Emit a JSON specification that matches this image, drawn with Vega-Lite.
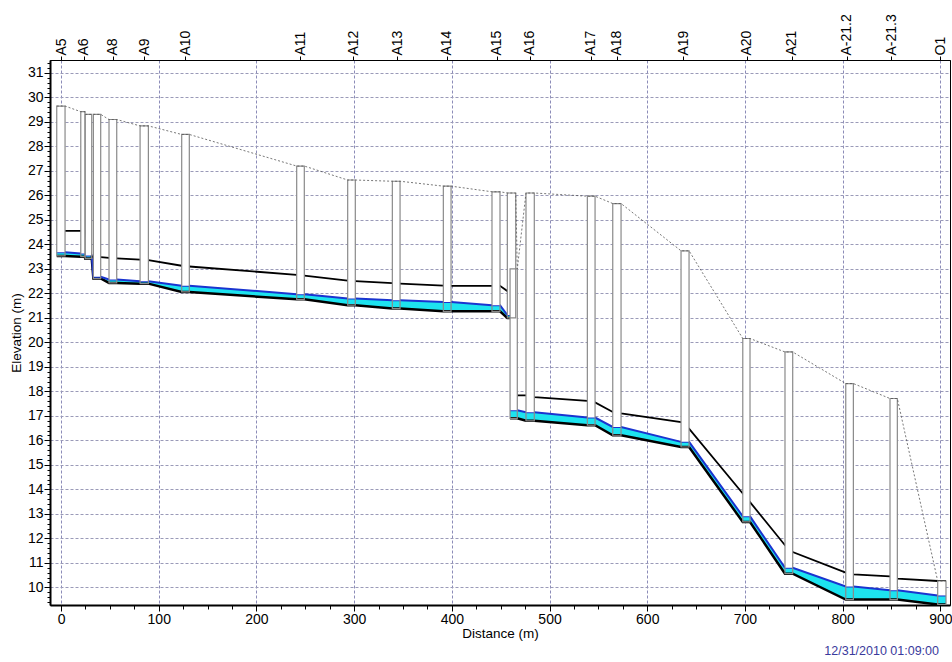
{
  "$schema": "https://vega.github.io/schema/vega-lite/v6.json",
  "width": 900,
  "height": 545,
  "autosize": {"type": "none"},
  "padding": {"left": 50, "top": 60, "right": 2, "bottom": 57},
  "background": "white",
  "title": {"text": "12/31/2010 01:09:00", "orient": "bottom", "anchor": "end", "frame": "group", "fontSize": 12.5, "fontWeight": "normal", "color": "#3a3a9c", "offset": 5, "dx": -11},
  "config": {
    "font": "Liberation Sans",
    "view": {"stroke": "#000", "strokeWidth": 1},
    "axis": {"labelColor": "#000", "titleColor": "#000", "tickColor": "#000", "domainColor": "#000", "labelFont": "Liberation Sans", "titleFont": "Liberation Sans", "titleFontWeight": "normal"}
  },
  "datasets": {
    "nodes": [
      {"name": "A5", "xl": -4.4, "xr": 4.1, "inv": 23.53, "wat": 23.68, "rim": 29.65},
      {"name": "A6", "xl": 20.2, "xr": 24.5, "inv": 23.5, "wat": 23.63, "rim": 29.42},
      {"name": "", "xl": 24.7, "xr": 31.4, "inv": 23.43, "wat": 23.55, "rim": 29.31},
      {"name": "", "xl": 33.1, "xr": 40.6, "inv": 22.61, "wat": 22.68, "rim": 29.31},
      {"name": "A8", "xl": 49.1, "xr": 57.0, "inv": 22.43, "wat": 22.57, "rim": 29.1},
      {"name": "A9", "xl": 80.9, "xr": 89.4, "inv": 22.4, "wat": 22.5, "rim": 28.84},
      {"name": "A10", "xl": 123.5, "xr": 131.3, "inv": 22.06, "wat": 22.31, "rim": 28.49},
      {"name": "A11", "xl": 241.2, "xr": 249.0, "inv": 21.76, "wat": 21.97, "rim": 27.2},
      {"name": "A12", "xl": 293.4, "xr": 301.2, "inv": 21.52, "wat": 21.79, "rim": 26.63},
      {"name": "A13", "xl": 339.1, "xr": 347.0, "inv": 21.38, "wat": 21.72, "rim": 26.58},
      {"name": "A14", "xl": 391.3, "xr": 399.2, "inv": 21.27, "wat": 21.65, "rim": 26.38},
      {"name": "A15", "xl": 441.1, "xr": 449.3, "inv": 21.27, "wat": 21.52, "rim": 26.15},
      {"name": "", "xl": 456.8, "xr": 465.4, "inv": 21.0, "wat": 21.12, "rim": 26.1},
      {"name": "", "xl": 459.6, "xr": 467.0, "inv": 16.9, "wat": 17.23, "rim": 23.0},
      {"name": "A16", "xl": 475.9, "xr": 484.4, "inv": 16.8, "wat": 17.15, "rim": 26.1},
      {"name": "A17", "xl": 538.7, "xr": 546.6, "inv": 16.62, "wat": 16.93, "rim": 25.97},
      {"name": "A18", "xl": 564.7, "xr": 573.2, "inv": 16.21, "wat": 16.55, "rim": 25.67},
      {"name": "A19", "xl": 634.6, "xr": 642.8, "inv": 15.73, "wat": 15.94, "rim": 23.74},
      {"name": "A20", "xl": 697.8, "xr": 705.2, "inv": 12.67, "wat": 12.9, "rim": 20.16},
      {"name": "A21", "xl": 741.0, "xr": 748.9, "inv": 10.56, "wat": 10.8, "rim": 19.61},
      {"name": "A-21.2", "xl": 803.2, "xr": 811.0, "inv": 9.5, "wat": 10.04, "rim": 18.32},
      {"name": "A-21.3", "xl": 848.5, "xr": 856.0, "inv": 9.5, "wat": 9.88, "rim": 17.71},
      {"name": "O1", "xl": 897.3, "xr": 905.8, "inv": 9.3, "wat": 9.67, "rim": 10.26}
    ],
    "profile": [
      {"seg": 1, "x": -4.4, "inv": 23.53, "wat": 23.68, "egl": 24.55},
      {"seg": 1, "x": 4.1, "inv": 23.53, "wat": 23.68, "egl": 24.55},
      {"seg": 1, "x": 20.2, "inv": 23.5, "wat": 23.63, "egl": 24.55},
      {"seg": 1, "x": 24.5, "inv": 23.5, "wat": 23.63, "egl": 24.55},
      {"seg": 1, "x": 24.7, "inv": 23.43, "wat": 23.55, "egl": 24.55},
      {"seg": 1, "x": 31.4, "inv": 23.43, "wat": 23.55, "egl": 23.5},
      {"seg": 1, "x": 33.1, "inv": 22.61, "wat": 22.68, "egl": 23.49},
      {"seg": 1, "x": 40.6, "inv": 22.61, "wat": 22.68, "egl": 23.48},
      {"seg": 1, "x": 49.1, "inv": 22.43, "wat": 22.57, "egl": 23.45},
      {"seg": 1, "x": 57.0, "inv": 22.43, "wat": 22.57, "egl": 23.43},
      {"seg": 1, "x": 80.9, "inv": 22.4, "wat": 22.5, "egl": 23.38},
      {"seg": 1, "x": 89.4, "inv": 22.4, "wat": 22.5, "egl": 23.36},
      {"seg": 1, "x": 123.5, "inv": 22.06, "wat": 22.31, "egl": 23.13},
      {"seg": 1, "x": 131.3, "inv": 22.06, "wat": 22.31, "egl": 23.1},
      {"seg": 1, "x": 241.2, "inv": 21.76, "wat": 21.97, "egl": 22.76},
      {"seg": 1, "x": 249.0, "inv": 21.76, "wat": 21.97, "egl": 22.73},
      {"seg": 1, "x": 293.4, "inv": 21.52, "wat": 21.79, "egl": 22.52},
      {"seg": 1, "x": 301.2, "inv": 21.52, "wat": 21.79, "egl": 22.5},
      {"seg": 1, "x": 339.1, "inv": 21.38, "wat": 21.72, "egl": 22.42},
      {"seg": 1, "x": 347.0, "inv": 21.38, "wat": 21.72, "egl": 22.4},
      {"seg": 1, "x": 391.3, "inv": 21.27, "wat": 21.65, "egl": 22.32},
      {"seg": 1, "x": 399.2, "inv": 21.27, "wat": 21.65, "egl": 22.31},
      {"seg": 1, "x": 441.1, "inv": 21.27, "wat": 21.52, "egl": 22.31},
      {"seg": 1, "x": 449.3, "inv": 21.27, "wat": 21.52, "egl": 22.31},
      {"seg": 1, "x": 456.8, "inv": 21.0, "wat": 21.12, "egl": 22.1},
      {"seg": 1, "x": 465.4, "inv": 21.0, "wat": 21.12, "egl": 22.1},
      {"seg": 2, "x": 459.6, "inv": 16.9, "wat": 17.23, "egl": 17.84},
      {"seg": 2, "x": 467.0, "inv": 16.9, "wat": 17.23, "egl": 17.84},
      {"seg": 2, "x": 475.9, "inv": 16.8, "wat": 17.15, "egl": 17.84},
      {"seg": 2, "x": 484.4, "inv": 16.8, "wat": 17.15, "egl": 17.77},
      {"seg": 2, "x": 538.7, "inv": 16.62, "wat": 16.93, "egl": 17.61},
      {"seg": 2, "x": 546.6, "inv": 16.62, "wat": 16.93, "egl": 17.55},
      {"seg": 2, "x": 564.7, "inv": 16.21, "wat": 16.55, "egl": 17.16},
      {"seg": 2, "x": 573.2, "inv": 16.21, "wat": 16.55, "egl": 17.1},
      {"seg": 2, "x": 634.6, "inv": 15.73, "wat": 15.94, "egl": 16.75},
      {"seg": 2, "x": 642.8, "inv": 15.73, "wat": 15.94, "egl": 16.48},
      {"seg": 2, "x": 697.8, "inv": 12.67, "wat": 12.9, "egl": 13.83},
      {"seg": 2, "x": 705.2, "inv": 12.67, "wat": 12.9, "egl": 13.48},
      {"seg": 2, "x": 741.0, "inv": 10.56, "wat": 10.8, "egl": 11.72},
      {"seg": 2, "x": 748.9, "inv": 10.56, "wat": 10.8, "egl": 11.44},
      {"seg": 2, "x": 803.2, "inv": 9.5, "wat": 10.04, "egl": 10.6},
      {"seg": 2, "x": 811.0, "inv": 9.5, "wat": 10.04, "egl": 10.53},
      {"seg": 2, "x": 848.5, "inv": 9.5, "wat": 9.88, "egl": 10.45},
      {"seg": 2, "x": 856.0, "inv": 9.5, "wat": 9.88, "egl": 10.36},
      {"seg": 2, "x": 897.3, "inv": 9.3, "wat": 9.67, "egl": 10.26},
      {"seg": 2, "x": 905.8, "inv": 9.3, "wat": 9.67, "egl": 10.26}
    ],
    "ground": [
      {"x": -4.4, "rim": 29.65}, {"x": 4.1, "rim": 29.65},
      {"x": 20.2, "rim": 29.42}, {"x": 24.5, "rim": 29.42},
      {"x": 24.7, "rim": 29.31}, {"x": 31.4, "rim": 29.31},
      {"x": 33.1, "rim": 29.31}, {"x": 40.6, "rim": 29.31},
      {"x": 49.1, "rim": 29.1}, {"x": 57.0, "rim": 29.1},
      {"x": 80.9, "rim": 28.84}, {"x": 89.4, "rim": 28.84},
      {"x": 123.5, "rim": 28.49}, {"x": 131.3, "rim": 28.49},
      {"x": 241.2, "rim": 27.2}, {"x": 249.0, "rim": 27.2},
      {"x": 293.4, "rim": 26.63}, {"x": 301.2, "rim": 26.63},
      {"x": 339.1, "rim": 26.58}, {"x": 347.0, "rim": 26.58},
      {"x": 391.3, "rim": 26.38}, {"x": 399.2, "rim": 26.38},
      {"x": 441.1, "rim": 26.15}, {"x": 449.3, "rim": 26.15},
      {"x": 456.8, "rim": 26.1}, {"x": 465.4, "rim": 26.1},
      {"x": 467.0, "rim": 23.0},
      {"x": 475.9, "rim": 26.1}, {"x": 484.4, "rim": 26.1},
      {"x": 538.7, "rim": 25.97}, {"x": 546.6, "rim": 25.97},
      {"x": 564.7, "rim": 25.67}, {"x": 573.2, "rim": 25.67},
      {"x": 634.6, "rim": 23.74}, {"x": 642.8, "rim": 23.74},
      {"x": 697.8, "rim": 20.16}, {"x": 705.2, "rim": 20.16},
      {"x": 741.0, "rim": 19.61}, {"x": 748.9, "rim": 19.61},
      {"x": 803.2, "rim": 18.32}, {"x": 811.0, "rim": 18.32},
      {"x": 848.5, "rim": 17.71}, {"x": 856.0, "rim": 17.71},
      {"x": 897.3, "rim": 10.26}, {"x": 905.8, "rim": 10.26}
    ]
  },
  "layer": [
    {
      "data": {"name": "profile"},
      "mark": {"type": "area", "color": "#1de3ef", "opacity": 1},
      "encoding": {
        "x": {"field": "x", "type": "quantitative", "scale": {"domain": [-11.3, 909.9], "nice": false, "zero": false},
          "axis": {"orient": "bottom", "values": [0, 100, 200, 300, 400, 500, 600, 700, 800, 900], "title": "Distance (m)", "grid": true, "gridColor": "#8c8cb8", "gridDash": [3, 2], "gridWidth": 1, "domainWidth": 2, "tickSize": 6, "tickWidth": 1, "labelFontSize": 14, "labelPadding": 1, "titleFontSize": 13.5, "titlePadding": 0, "labelFlush": false}},
        "y": {"field": "inv", "type": "quantitative", "scale": {"domain": [9.28, 31.53], "nice": false, "zero": false},
          "axis": {"orient": "left", "values": [10, 11, 12, 13, 14, 15, 16, 17, 18, 19, 20, 21, 22, 23, 24, 25, 26, 27, 28, 29, 30, 31], "title": "Elevation (m)", "grid": true, "gridColor": "#9a9ab8", "gridDash": [3, 2], "gridWidth": 1, "domainWidth": 2, "tickSize": 6, "tickWidth": 1, "labelFontSize": 14, "labelPadding": 1, "titleFontSize": 13.5, "titlePadding": 4, "labelFlush": false}},
        "y2": {"field": "wat"},
        "detail": {"field": "seg", "type": "nominal"}
      }
    },
    {
      "data": {"name": "profile"},
      "mark": {"type": "line", "color": "#000000", "strokeWidth": 2.5},
      "encoding": {
        "x": {"field": "x", "type": "quantitative", "scale": {"domain": [-11.3, 909.9], "nice": false, "zero": false},
          "axis": {"orient": "bottom", "values": [0, 25, 50, 75, 100, 125, 150, 175, 200, 225, 250, 275, 300, 325, 350, 375, 400, 425, 450, 475, 500, 525, 550, 575, 600, 625, 650, 675, 700, 725, 750, 775, 800, 825, 850, 875, 900], "labels": false, "domain": false, "grid": false, "tickSize": 4, "title": null}},
        "y": {"field": "inv", "type": "quantitative", "scale": {"domain": [9.28, 31.53], "nice": false, "zero": false},
          "axis": {"orient": "left", "tickCount": 111, "labels": false, "domain": false, "grid": false, "tickSize": 3, "title": null}},
        "detail": {"field": "seg", "type": "nominal"}
      }
    },
    {
      "data": {"name": "profile"},
      "mark": {"type": "line", "color": "#1a34d0", "strokeWidth": 2},
      "encoding": {
        "x": {"field": "x", "type": "quantitative", "scale": {"domain": [-11.3, 909.9], "nice": false, "zero": false}, "axis": null},
        "y": {"field": "wat", "type": "quantitative", "scale": {"domain": [9.28, 31.53], "nice": false, "zero": false}, "axis": null},
        "detail": {"field": "seg", "type": "nominal"}
      }
    },
    {
      "data": {"name": "profile"},
      "mark": {"type": "line", "color": "#000000", "strokeWidth": 1.8},
      "encoding": {
        "x": {"field": "x", "type": "quantitative", "scale": {"domain": [-11.3, 909.9], "nice": false, "zero": false}, "axis": null},
        "y": {"field": "egl", "type": "quantitative", "scale": {"domain": [9.28, 31.53], "nice": false, "zero": false}, "axis": null},
        "detail": {"field": "seg", "type": "nominal"}
      }
    },
    {
      "data": {"name": "nodes"},
      "mark": {"type": "rect", "fill": "#ffffff", "strokeWidth": 0},
      "encoding": {
        "x": {"field": "xl", "type": "quantitative", "scale": {"domain": [-11.3, 909.9], "nice": false, "zero": false}, "axis": null},
        "x2": {"field": "xr"},
        "y": {"field": "wat", "type": "quantitative", "scale": {"domain": [9.28, 31.53], "nice": false, "zero": false}, "axis": null},
        "y2": {"field": "rim"}
      }
    },
    {
      "data": {"name": "nodes"},
      "mark": {"type": "rect", "filled": false, "stroke": "#8a8a8a", "strokeWidth": 1.2},
      "encoding": {
        "x": {"field": "xl", "type": "quantitative", "scale": {"domain": [-11.3, 909.9], "nice": false, "zero": false}, "axis": null},
        "x2": {"field": "xr"},
        "y": {"field": "inv", "type": "quantitative", "scale": {"domain": [9.28, 31.53], "nice": false, "zero": false}, "axis": null},
        "y2": {"field": "rim"}
      }
    },
    {
      "data": {"name": "ground"},
      "mark": {"type": "line", "color": "#555555", "strokeWidth": 0.8, "strokeDash": [2, 2]},
      "encoding": {
        "x": {"field": "x", "type": "quantitative", "scale": {"domain": [-11.3, 909.9], "nice": false, "zero": false},
          "axis": {"orient": "top", "values": [0, 23.5, 53, 85, 127, 245, 299, 344, 395, 446, 480, 542, 569, 637, 702, 748, 804, 850, 900], "labelExpr": "['A5','A6','A8','A9','A10','A11','A12','A13','A14','A15','A16','A17','A18','A19','A20','A21','A-21.2','A-21.3','O1'][indexof([0,23.5,53,85,127,245,299,344,395,446,480,542,569,637,702,748,804,850,900], datum.value)]", "labelAngle": -90, "labelAlign": "left", "labelBaseline": "middle", "labelFontSize": 14, "labelPadding": 1, "tickSize": 4, "grid": false, "domain": true, "domainWidth": 1, "title": null, "labelOverlap": false, "labelFlush": false, "labelBound": false}},
        "y": {"field": "rim", "type": "quantitative", "scale": {"domain": [9.28, 31.53], "nice": false, "zero": false}, "axis": null}
      }
    }
  ],
  "resolve": {"axis": {"x": "independent", "y": "independent"}}
}
